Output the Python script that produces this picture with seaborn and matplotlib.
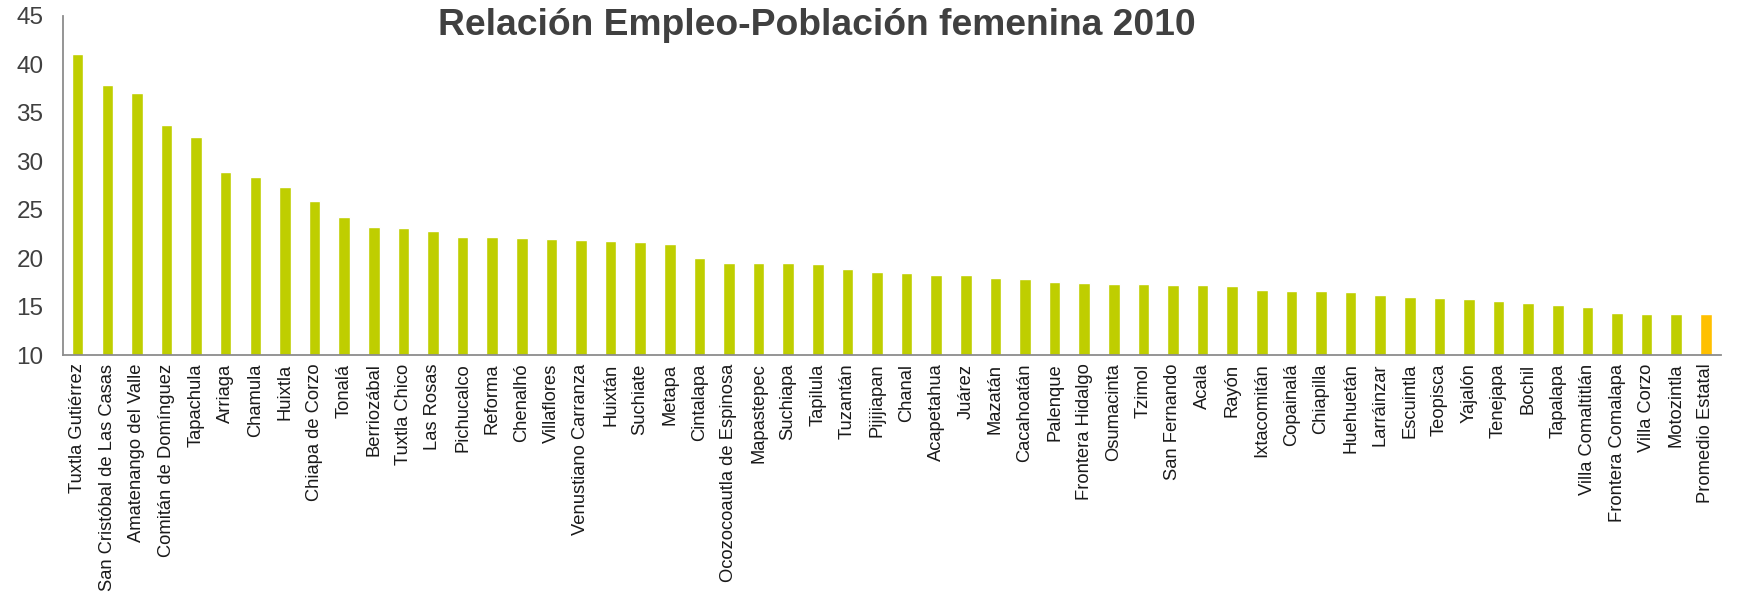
import matplotlib
matplotlib.use('Agg')
import matplotlib.pyplot as plt
import seaborn as sns
import numpy as np
import pandas as pd

# Data
municipios = ['Tuxtla Gutiérrez', 'San Cristóbal de Las Casas', 'Amatenango del Valle',
              'Comitán de Domínguez', 'Tapachula', 'Arriaga', 'Chamula', 'Huixtla',
              'Chiapa de Corzo', 'Tonalá', 'Berriozábal', 'Tuxtla Chico', 'Las Rosas',
              'Pichucalco', 'Reforma', 'Chenalhó', 'Villaflores', 'Venustiano Carranza',
              'Huixtán', 'Suchiate', 'Metapa', 'Cintalapa', 'Ocozocoautla de Espinosa',
              'Mapastepec', 'Suchiapa', 'Tapilula', 'Tuzantán', 'Pijijiapan', 'Chanal',
              'Acapetahua', 'Juárez', 'Mazatán', 'Cacahoatán', 'Palenque', 'Frontera Hidalgo',
              'Osumacinta', 'Tzimol', 'San Fernando', 'Acala', 'Rayón', 'Ixtacomitán',
              'Copainalá', 'Chiapilla', 'Huehuetán', 'Larráinzar', 'Escuintla', 'Teopisca',
              'Yajalón', 'Tenejapa', 'Bochil', 'Tapalapa', 'Villa Comaltitlán',
              'Frontera Comalapa', 'Villa Corzo', 'Motozintla', 'Promedio Estatal']
relacion = [41.0, 37.9, 37.05, 33.7, 32.5, 28.9, 28.4, 27.35, 25.9, 24.25,
            23.2, 23.15, 22.77, 22.2, 22.18, 22.1, 21.94, 21.88, 21.77, 21.67,
            21.46, 19.98, 19.54, 19.5, 19.47, 19.36, 18.88, 18.57, 18.5, 18.3,
            18.26, 17.92, 17.82, 17.51, 17.45, 17.35, 17.3, 17.28, 17.23, 17.09,
            16.71, 16.61, 16.61, 16.51, 16.16, 15.99, 15.92, 15.78, 15.58, 15.34,
            15.2, 14.96, 14.37, 14.27, 14.24, 14.24]

verde = '#BFCE00'
naranja = '#FFC000'
colores = [naranja if m == 'Promedio Estatal' else verde for m in municipios]

df = pd.DataFrame({'municipio': municipios, 'valor': relacion})

sns.set_style('white')
plt.rcParams['font.family'] = ['Liberation Sans', 'DejaVu Sans']

fig = plt.figure(figsize=(17.38, 6.03), dpi=100)
ax = fig.add_axes([0.0362, 0.411, 0.9538, 0.563])

sns.barplot(data=df, x='municipio', y='valor', hue='municipio', palette=colores,
            legend=False, width=0.39, saturation=1, ax=ax)

ax.set_ylim(10, 45)
ax.set_xlim(-0.5, len(municipios) - 0.5)
ax.set_yticks(np.arange(10, 46, 5))
ax.set_xlabel('')
ax.set_ylabel('')

ax.set_xticks(range(len(municipios)))
ax.set_xticklabels(municipios, rotation=90, fontsize=13.2, color='#1a1a1a')
ax.set_xticks(np.arange(-0.5, len(municipios), 1), minor=True)
ax.tick_params(axis='x', which='major', length=0, pad=6)
ax.tick_params(axis='x', which='minor', length=5, width=1.2, color='#8c8c8c', direction='out')
ax.tick_params(axis='y', which='major', length=5, width=1.2, color='#8c8c8c',
               direction='out', labelsize=17.5, labelcolor='#404040', pad=9)

for s in ['top', 'right']:
    ax.spines[s].set_visible(False)
for s in ['left', 'bottom']:
    ax.spines[s].set_color('#8c8c8c')
    ax.spines[s].set_linewidth(1.3)

fig.text(0.470, 0.987, 'Relación Empleo-Población femenina 2010', ha='center', va='top',
         fontsize=26.8, fontweight='bold', color='#404040')

plt.savefig('out.png', dpi=100)
plt.close()
